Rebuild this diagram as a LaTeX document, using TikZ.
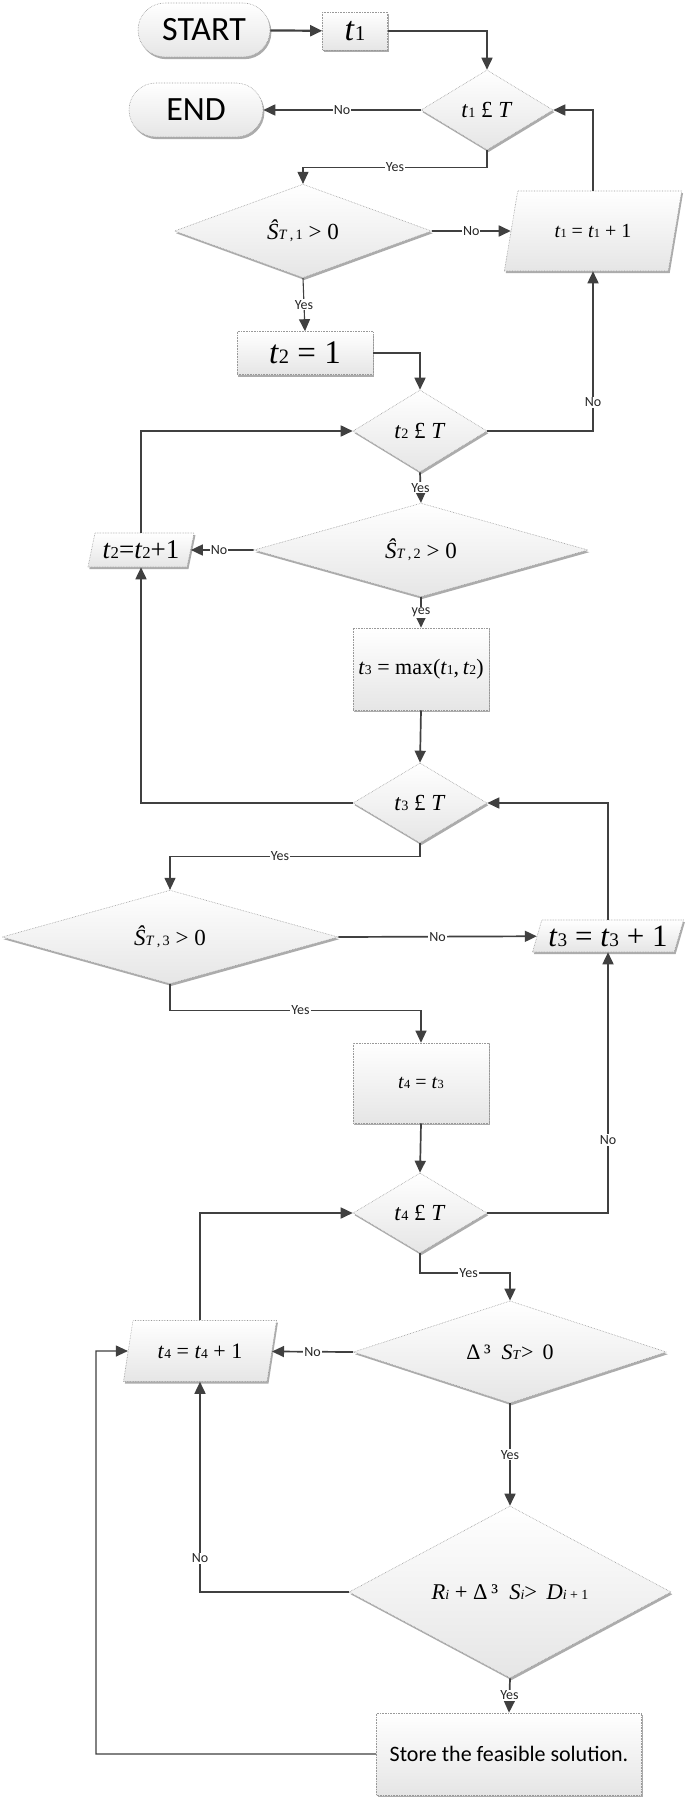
\documentclass[tikz,border=0pt]{standalone}
\usepackage{fontspec}
\setmainfont{Liberation Serif}
\newfontfamily\calib{Carlito}
\usepackage{graphicx}
\usetikzlibrary{shapes.geometric,shapes.misc,shadows,arrows.meta,calc}
\newcommand\sm[1]{\scalebox{0.62}{#1}}
\newcommand\fs[1]{\fontsize{#1}{#1}\selectfont}
\begin{document}
\begin{tikzpicture}[x=1pt,y=-1pt,
  base/.style={draw=gray!80, densely dotted, line width=0.6pt, top color=white, bottom color=gray!20,
    drop shadow={shadow xshift=1.4pt, shadow yshift=-2.2pt, fill=gray!65, opacity=1}, inner sep=0pt, text=black},
  term/.style={base, rounded rectangle, minimum width=132pt, minimum height=54pt, font=\calib\fs{34}},
  proc/.style={base, rectangle},
  dec/.style={base, diamond},
  io/.style={base, trapezium, trapezium stretches=true},
  lbl/.style={fill=white, inner sep=1pt, font=\calib\fs{14}, text=black!85},
  conn/.style={draw=black!75, line width=1.7pt, -{Triangle[length=12pt,width=11pt]}},
  thinconn/.style={conn, line width=1.1pt},
]
\fill[white] (0,0) rectangle (685,1798);
\useasboundingbox (0,0) rectangle (685,1798);

% nodes
\node[term] (start) at (204,30) {START};
\node[proc, minimum width=65pt, minimum height=38pt, font=\fs{34}] (t1) at (355,31) {\textit{t}\sm{1}};
\node[dec, minimum width=132pt, minimum height=80pt, font=\fs{23}] (d1) at (487,110) {\textit{t}\sm{1} £ \textit{T}};
\node[term, minimum width=134pt] (endn) at (196,110) {END};
\node[dec, minimum width=257pt, minimum height=80pt, font=\fs{23}] (d2) at (303,231) {\textit{Ŝ}\sm{\textit{T}\,,\,1} > 0};
\node[io, trapezium left angle=63, trapezium right angle=117, minimum width=178pt, minimum height=80pt, font=\fs{20}] (p1) at (593,231) {\textit{t}\sm{1} = \textit{t}\sm{1} + 1};
\node[proc, minimum width=136pt, minimum height=43pt, font=\fs{33}] (t2) at (305,353) {\textit{t}\sm{2} = 1};
\node[dec, minimum width=134pt, minimum height=82pt, font=\fs{23}] (d3) at (420,431) {\textit{t}\sm{2} £ \textit{T}};
\node[dec, minimum width=334pt, minimum height=74pt, font=\fs{23}] (d4) at (421,550) {\textit{Ŝ}\sm{\textit{T}\,,\,2} > 0};
\node[io, trapezium left angle=72, trapezium right angle=108, minimum width=107pt, minimum height=34pt, font=\fs{27}] (p2) at (141,550) {\textit{t}\sm{2}=\textit{t}\sm{2}+1};
\node[proc, minimum width=136pt, minimum height=82pt, font=\fs{22}] (t3) at (421,669) {\textit{t}\sm{3} = max(\textit{t}\sm{1},\,\textit{t}\sm{2})};
\node[dec, minimum width=134pt, minimum height=80pt, font=\fs{23}] (d5) at (420,803) {\textit{t}\sm{3} £ \textit{T}};
\node[dec, minimum width=336pt, minimum height=80pt, font=\fs{23}] (d6) at (170,937) {\textit{Ŝ}\sm{\textit{T}\,,\,3} > 0};
\node[io, trapezium left angle=68, trapezium right angle=112, minimum width=151pt, minimum height=32pt, font=\fs{31}] (p3) at (608,936) {\textit{t}\sm{3} = \textit{t}\sm{3} + 1};
\node[proc, minimum width=136pt, minimum height=80pt, font=\fs{20}] (t4) at (421,1083) {\textit{t}\sm{4} = \textit{t}\sm{3}};
\node[dec, minimum width=134pt, minimum height=80pt, font=\fs{23}] (d7) at (420,1213) {\textit{t}\sm{4} £ \textit{T}};
\node[dec, minimum width=313pt, minimum height=91pt, font=\fs{22}] (d8) at (510,1352) {Δ\,³\enspace\textit{S}\sm{\textit{T}}> \,0};
\node[io, trapezium left angle=68, trapezium right angle=112, minimum width=154pt, minimum height=61pt, font=\fs{22}] (p4) at (200,1351) {\textit{t}\sm{4} = \textit{t}\sm{4} + 1};
\node[dec, minimum width=322pt, minimum height=81pt, font=\fs{22.5}] (d9) at (510,1592) {\textit{R}\sm{\textit{i}} + Δ\,³\enspace\textit{S}\sm{\textit{i}}> \,\textit{D}\sm{\textit{i} + 1}};
\node[proc, minimum width=265pt, minimum height=82pt, font=\calib\fs{22}] (store) at (509,1754) {Store the feasible solution.};
\coordinate (c1) at (96,1351);

% connectors
\draw[conn, line width=2.2pt] (start) -- (t1);
\draw[conn] (t1.east) -| (d1.north);
\draw[conn] (d1.west) -- node[lbl]{No} (endn.east);
\draw[thinconn] (d1.south) -- ++(0,17) -| node[lbl,pos=0.25]{Yes} (d2.north);
\draw[conn] (d2.east) -- node[lbl]{No} (p1);
\draw[conn] (p1.north) |- (d1.east);
\draw[thinconn] (d2.south) -- node[lbl]{Yes} (t2.north);
\draw[conn] (t2.east) -| (d3.north);
\draw[conn] (d3.east) -| node[lbl,pos=0.59]{No} (p1.south);
\draw[conn] (d3.south) -- node[lbl]{Yes} (d4.north);
\draw[conn] (d4.west) -- node[lbl,pos=0.55]{No} (p2);
\draw[conn] (p2.north) |- (d3.west);
\draw[conn] (d4.south) -- node[lbl]{yes} (t3.north);
\draw[conn] (t3.south) -- (d5.north);
\draw[conn] (d5.west) -| (p2.south);
\draw[thinconn] (d5.south) -- ++(0,13) -| node[lbl,pos=0.28]{Yes} (d6.north);
\draw[conn] (d6.east) -- node[lbl]{No} (p3);
\draw[conn] (p3.north) |- (d5.east);
\draw[thinconn] (d6.south) -- ++(0,26) -| node[lbl,pos=0.26]{Yes} (t4.north);
\draw[conn] (t4.south) -- (d7.north);
\draw[conn] (d7.east) -| node[lbl,pos=0.64]{No} (p3.south);
\draw[conn] (d7.south) -- ++(0,20) -| node[lbl,pos=0.27]{Yes} (d8.north);
\draw[conn] (d8.west) -- node[lbl]{No} (p4);
\draw[conn] (p4.north) |- (d7.west);
\draw[conn] (d8.south) -- node[lbl]{Yes} (d9.north);
\draw[conn] (d9.west) -| node[lbl,pos=0.58]{No} (p4.south);
\draw[conn] (d9.south) -- node[lbl]{Yes} (store.north);
\draw[thinconn] (store.west) -| (c1) -- (p4);
\end{tikzpicture}
\end{document}
